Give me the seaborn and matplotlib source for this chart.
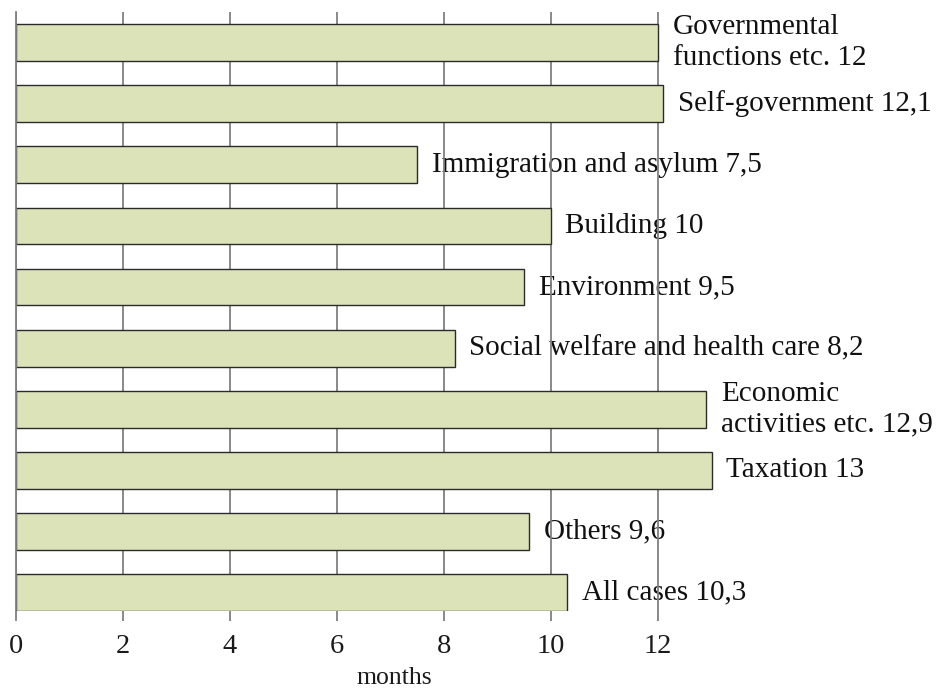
import matplotlib
matplotlib.use("Agg")
import matplotlib.pyplot as plt
import seaborn as sns
import pandas as pd

# Average processing time by case type (months)
categories = [
    "Governmental functions etc.",
    "Self-government",
    "Immigration and asylum",
    "Building",
    "Environment",
    "Social welfare and health care",
    "Economic activities etc.",
    "Taxation",
    "Others",
    "All cases",
]
months = [12, 12.1, 7.5, 10, 9.5, 8.2, 12.9, 13, 9.6, 10.3]
bar_labels = [
    "Governmental\nfunctions etc. 12",
    "Self-government 12,1",
    "Immigration and asylum 7,5",
    "Building 10",
    "Environment 9,5",
    "Social welfare and health care 8,2",
    "Economic\nactivities etc. 12,9",
    "Taxation 13",
    "Others 9,6",
    "All cases 10,3",
]
x_ticks = [0, 2, 4, 6, 8, 10, 12]

df = pd.DataFrame({"category": categories, "months": months})

sns.set_theme(style="white")
plt.rcParams["font.family"] = ["Liberation Serif", "DejaVu Serif"]

W, H = 942, 691
fig = plt.figure(figsize=(W / 100, H / 100), dpi=100)
left_px, right_px, top_px, bottom_px = 15.5, 942, 12, 611
ax = fig.add_axes([left_px / W, (H - bottom_px) / H,
                   (right_px - left_px) / W, (bottom_px - top_px) / H])

sns.barplot(data=df, x="months", y="category", orient="h", ax=ax,
            color="#dde3b9", edgecolor="#2b2b2b", linewidth=1.0,
            width=0.6, saturation=1)

px_per_unit = (658 - left_px) / 12
ax.set_xlim(0, (right_px - left_px) / px_per_unit)
ax.set_ylim(len(categories) - 0.7, -0.5)

grid_color = "#808080"
ax.set_xticks(x_ticks)
ax.set_xticklabels([str(t) for t in x_ticks], fontsize=20.5)
ax.tick_params(axis="x", direction="out", length=7.5, width=1.3,
               color=grid_color, pad=9, labelcolor="#1a1a1a", bottom=True)
ax.tick_params(axis="y", left=False, labelleft=False)
ax.set_ylabel("")
ax.set_xlabel("months", fontsize=18.5, color="#1a1a1a", va="baseline")
ax.xaxis.set_label_coords((394 - left_px) / (right_px - left_px),
                          (bottom_px - 684) / (bottom_px - top_px))

ax.set_axisbelow(True)
ax.xaxis.grid(True, color=grid_color, linewidth=1.3)
ax.yaxis.grid(False)
for side in ("top", "right", "bottom"):
    ax.spines[side].set_visible(False)
ax.spines["left"].set_color(grid_color)
ax.spines["left"].set_linewidth(1.3)

for i, (v, lab) in enumerate(zip(months, bar_labels)):
    ax.annotate(lab, xy=(v, i), xytext=(10.5, 0), textcoords="offset points",
                ha="left", va="center", fontsize=21, color="#111111",
                linespacing=1.22, zorder=0.3)

fig.savefig("out.png", dpi=100)
